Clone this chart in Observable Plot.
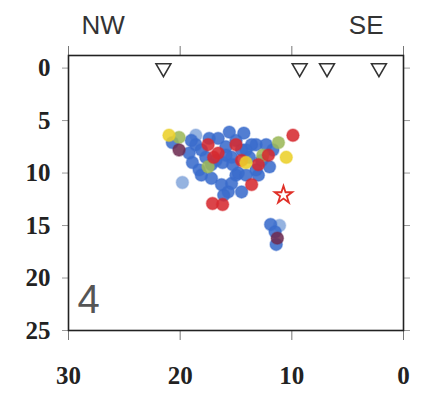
<!DOCTYPE html>
<html>
<head>
<meta charset="utf-8">
<script src="https://cdn.jsdelivr.net/npm/d3@7"></script>
<script src="https://cdn.jsdelivr.net/npm/@observablehq/plot@0.6"></script>
<style>
  html, body { margin: 0; padding: 0; background: #fff; }
</style>
</head>
<body>
<div id="chart"></div>
<script>
// Axis ticks
const xTicks = [30, 20, 10, 0];
const yTicks = [0, 5, 10, 15, 20, 25];

// Stations (triangles) along the surface
const stationX = [21.5, 9.3, 6.85, 2.2];
const stationY = [0, 0, 0, 0];

// Mainshock (star)
const starX = [10.75];
const starY = [12.1];

// Events: distance (km), depth (km), colour group
const eqX = [21.0, 20.1, 20.7, 20.1, 19.2, 18.9, 18.6, 17.5, 17.4, 16.6,
             17.5, 17.7, 16.6, 15.9, 19.8, 18.3, 16.2, 15.0, 14.3, 15.0,
             15.4, 14.5, 14.1, 13.8, 13.0, 12.6, 12.1, 11.7, 11.2, 9.9,
             10.5, 12.0, 13.6, 15.0, 18.1, 14.8, 15.4, 15.7, 17.1, 16.2,
             14.5, 16.1, 13.0, 11.9, 11.1, 11.5, 11.3, 11.4, 17.0, 17.2,
             14.1, 13.2, 15.6, 18.1, 16.8, 15.9, 14.5, 13.6, 15.3, 14.1,
             16.3, 17.2, 18.6, 19.0, 12.7, 12.3, 13.2];
const eqY = [6.4, 6.6, 7.1, 7.8, 8.1, 9.0, 7.3, 7.3, 6.7, 6.7,
             9.4, 8.5, 8.1, 7.5, 10.9, 9.7, 9.0, 6.9, 6.2, 7.3,
             8.5, 8.8, 9.0, 8.5, 9.2, 8.3, 8.3, 7.8, 7.1, 6.4,
             8.5, 9.4, 11.1, 10.2, 10.2, 10.0, 11.0, 11.8, 12.9, 13.0,
             11.8, 12.1, 10.2, 14.9, 15.0, 15.6, 16.2, 16.8, 8.5, 10.5,
             7.8, 7.3, 6.1, 7.8, 8.8, 8.3, 7.8, 7.3, 9.2, 10.2,
             11.1, 9.2, 6.4, 6.9, 8.8, 7.3, 9.7];
const eqGroup = ["y", "g", "b", "p", "b", "b", "b", "r", "b", "b",
                 "g", "b", "r", "b", "l", "b", "b", "b", "b", "r",
                 "b", "r", "y", "b", "r", "g", "r", "b", "g", "r",
                 "y", "b", "r", "b", "b", "b", "b", "b", "r", "r",
                 "b", "b", "b", "b", "l", "b", "p", "b", "r", "b",
                 "b", "b", "b", "b", "b", "b", "b", "b", "b", "b",
                 "b", "b", "l", "b", "b", "b", "b"];

const groups = ["l", "b", "g", "p", "r", "y"];
const groupColors = ["#86a8dc", "#3a6ccc", "#9cb85a", "#6e2c52", "#d62a30", "#ecd02a"];

const rank = g => groups.indexOf(g);
const events = eqX.map((x, i) => ({x, y: eqY[i], g: eqGroup[i]}))
  .sort((a, b) => rank(a.g) - rank(b.g));
const stations = stationX.map((x, i) => ({x, y: stationY[i]}));
const stars = starX.map((x, i) => ({x, y: starY[i]}));

const chart = Plot.plot({
  width: 424,
  height: 393,
  marginLeft: 68,
  marginRight: 21,
  marginTop: 55,
  marginBottom: 63,
  x: {domain: [30, 0]},
  y: {domain: [-1.2, 25], reverse: true},
  color: {domain: groups, range: groupColors},
  style: {fontFamily: "Liberation Serif", background: "#fff", color: "#222"},
  marks: [
    Plot.axisY({ticks: yTicks, tickSize: 6, tickPadding: 12, fontSize: 25, fontWeight: "bold", label: null, stroke: "#999"}),
    Plot.axisY({anchor: "right", ticks: yTicks, tickSize: 6, tickFormat: () => "", label: null, stroke: "#999"}),
    Plot.axisX({anchor: "bottom", ticks: xTicks, tickSize: 10, tickPadding: 26, fontSize: 25, fontWeight: "bold", label: null, stroke: "#777"}),
    Plot.axisX({anchor: "top", ticks: xTicks, tickSize: 10, tickFormat: () => "", label: null, stroke: "#777"}),
    Plot.frame({stroke: "#222", strokeWidth: 1.6}),
    Plot.dot(events, {x: "x", y: "y", fill: "g", r: 6.2, fillOpacity: 0.88, stroke: "g", strokeOpacity: 0.4}),
    Plot.dot(stations, {x: "x", y: "y", symbol: "triangle", rotate: 180, r: 5.5, fill: "#fff", stroke: "#333", strokeWidth: 1.6}),
    Plot.dot(stars, {x: "x", y: "y", symbol: "star", r: 5.5, fill: "#fff", stroke: "#e03028", strokeWidth: 1.8}),
    Plot.text(["NW"], {frameAnchor: "top-left", textAnchor: "start", lineAnchor: "bottom", dx: 13, dy: -22, fontSize: 26, fontFamily: "Liberation Sans", fill: "#333"}),
    Plot.text(["SE"], {frameAnchor: "top-right", textAnchor: "end", lineAnchor: "bottom", dx: -20, dy: -22, fontSize: 26, fontFamily: "Liberation Sans", fill: "#333"}),
    Plot.text(["4"], {frameAnchor: "bottom-left", textAnchor: "start", lineAnchor: "bottom", dx: 9, dy: -18, fontSize: 40, fontFamily: "Liberation Sans", fill: "#555"})
  ]
});
document.getElementById("chart").append(chart);
</script>
</body>
</html>
